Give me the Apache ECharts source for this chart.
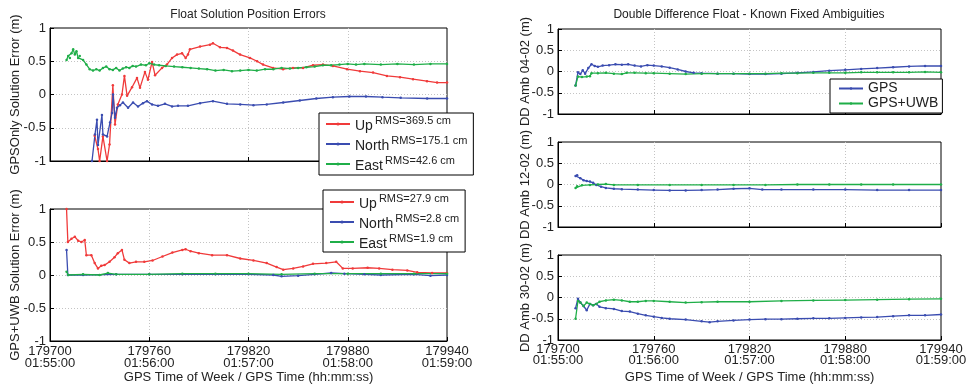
<!DOCTYPE html>
<html><head><meta charset="utf-8">
<script src="https://cdn.jsdelivr.net/npm/echarts@6/dist/echarts.min.js"></script>
<style>html,body{margin:0;padding:0;background:#fff}#c{width:972px;height:387px}</style>
</head><body><div id="c"></div>
<script>
// ---- tick labels / text ----
const xTickTimes = ['01:55:00', '01:56:00', '01:57:00', '01:58:00', '01:59:00'];
const leftNames = ['Up', 'North', 'East'];
const rmsGpsOnly = ['369.5 cm', '175.1 cm', '42.6 cm'];
const rmsGpsUwb = ['27.9 cm', '2.8 cm', '1.9 cm'];
const rightNames = ['GPS', 'GPS+UWB'];

// ---- GPS only position errors (m) ----
const upGpsOnly = [[179727,-0.62],[179729,-0.82],[179730,-1.0],[179732,-0.63],[179734.5,-1.0],[179736,-0.75],[179738,0.14],[179739.3,-0.45],[179741,-0.15],[179743.5,0.0],[179745,0.28],[179746.6,-0.02],[179749.6,0.11],[179752.6,0.25],[179754.4,0.1],[179757.4,0.34],[179759.2,0.22],[179761.7,0.49],[179763.5,0.29],[179767.7,0.4],[179770.7,0.45],[179773.8,0.55],[179776.8,0.6],[179779.8,0.62],[179782,0.55],[179783.4,0.6],[179784.6,0.68],[179790.7,0.72],[179796.7,0.75],[179798.5,0.77],[179802.8,0.71],[179807,0.7],[179810.6,0.66],[179814.9,0.6],[179820.9,0.55],[179825.2,0.5],[179828.8,0.45],[179834.8,0.4],[179840.9,0.38],[179846.9,0.4],[179853,0.4],[179859,0.44],[179865,0.45],[179871,0.43],[179879.6,0.38],[179887.4,0.35],[179895.3,0.33],[179903.7,0.28],[179911.6,0.26],[179919.5,0.23],[179927.9,0.2],[179934,0.18],[179940,0.18]];
const northGpsOnly = [[179725.4,-1.0],[179727.2,-0.6],[179728.4,-0.38],[179729,-0.76],[179731.4,-0.31],[179732,-0.6],[179734.5,-0.63],[179736.3,-0.42],[179737.5,-0.28],[179738.1,0.0],[179739.3,-0.35],[179740.5,-0.2],[179742.3,-0.16],[179744.1,-0.12],[179747.2,-0.2],[179750.2,-0.12],[179753.2,-0.18],[179756.2,-0.13],[179758.6,-0.1],[179761.7,-0.15],[179765.3,-0.17],[179769.5,-0.14],[179773.8,-0.18],[179777.4,-0.17],[179783.4,-0.17],[179790.7,-0.13],[179798.5,-0.1],[179807,-0.14],[179815,-0.15],[179823,-0.16],[179831,-0.15],[179841,-0.12],[179851,-0.09],[179861,-0.06],[179871,-0.04],[179881,-0.03],[179891,-0.03],[179901,-0.04],[179912,-0.05],[179928,-0.06],[179940,-0.06]];
const eastGpsOnly = [[179710,0.52],[179711,0.58],[179712,0.55],[179713,0.62],[179714,0.68],[179715,0.6],[179716,0.65],[179717,0.55],[179718,0.58],[179720,0.52],[179722,0.45],[179724,0.38],[179726,0.36],[179728,0.38],[179730,0.36],[179732,0.4],[179734,0.42],[179736,0.38],[179738,0.37],[179740,0.4],[179742,0.36],[179744,0.39],[179746,0.41],[179748,0.4],[179750,0.43],[179752,0.42],[179755,0.45],[179758,0.44],[179760,0.47],[179763,0.45],[179766,0.44],[179770,0.43],[179775,0.42],[179780,0.41],[179785,0.4],[179790,0.39],[179795,0.38],[179800,0.36],[179805,0.37],[179810,0.35],[179815,0.36],[179820,0.37],[179825,0.36],[179830,0.38],[179835,0.38],[179840,0.4],[179845,0.39],[179850,0.4],[179855,0.41],[179860,0.42],[179865,0.44],[179870,0.44],[179875,0.45],[179880,0.46],[179885,0.45],[179890,0.46],[179900,0.45],[179910,0.46],[179920,0.45],[179930,0.46],[179940,0.46]];

// ---- GPS+UWB position errors (m) ----
const upGpsUwb = [[179710,1.0],[179710.8,0.5],[179713,0.55],[179715,0.58],[179717,0.52],[179719,0.5],[179721,0.53],[179722,0.3],[179725,0.3],[179727,0.18],[179729,0.1],[179731,0.14],[179733,0.15],[179736,0.2],[179739,0.27],[179741,0.33],[179743.5,0.38],[179745,0.23],[179748,0.18],[179752,0.2],[179757,0.2],[179762,0.22],[179768,0.28],[179774,0.34],[179780,0.38],[179782,0.39],[179785,0.36],[179790,0.33],[179798,0.3],[179807,0.3],[179815,0.25],[179823,0.22],[179831,0.18],[179837,0.12],[179841,0.08],[179847,0.1],[179853,0.13],[179859,0.17],[179867,0.18],[179873,0.2],[179877,0.1],[179883,0.1],[179892,0.11],[179899,0.1],[179907,0.08],[179916,0.07],[179922,0.04],[179931,0.03],[179940,0.03]];
const northGpsUwb = [[179710,0.38],[179710.8,0.0],[179720,0.0],[179740,0.01],[179760,0.01],[179780,0.01],[179800,0.01],[179820,0.01],[179835,0.0],[179840,-0.02],[179850,-0.01],[179860,0.01],[179870,0.03],[179878,0.02],[179890,0.01],[179900,0.0],[179920,0.01],[179930,-0.01],[179940,0.0]];
const eastGpsUwb = [[179710,0.05],[179711,0.0],[179720,0.01],[179730,0.0],[179735,0.03],[179740,0.01],[179760,0.01],[179780,0.02],[179800,0.02],[179820,0.02],[179840,0.01],[179860,0.02],[179880,0.02],[179900,0.02],[179920,0.02],[179940,0.02]];

// ---- DD ambiguity errors (m) ----
const gps0402 = [[179711,-0.33],[179712.5,-0.02],[179714,-0.06],[179715.5,0.03],[179717,-0.05],[179719,0.08],[179721,0.17],[179723,0.13],[179725,0.11],[179728,0.14],[179732,0.15],[179736,0.17],[179740,0.16],[179744,0.17],[179748,0.14],[179752,0.12],[179756,0.15],[179760,0.14],[179765,0.12],[179770,0.09],[179775,0.05],[179780,0.0],[179785,-0.03],[179790,-0.04],[179800,-0.05],[179810,-0.05],[179820,-0.06],[179830,-0.06],[179840,-0.05],[179850,-0.03],[179860,-0.01],[179870,0.02],[179880,0.04],[179890,0.06],[179900,0.08],[179910,0.1],[179920,0.12],[179930,0.13],[179940,0.13]];
const uwb0402 = [[179711,-0.33],[179712.5,-0.12],[179715,-0.13],[179718,-0.12],[179720,-0.11],[179721,-0.04],[179725,-0.04],[179730,-0.03],[179735,-0.05],[179740,-0.06],[179743,-0.03],[179748,-0.03],[179755,-0.04],[179760,-0.04],[179770,-0.05],[179780,-0.06],[179790,-0.05],[179800,-0.05],[179810,-0.05],[179820,-0.05],[179830,-0.05],[179840,-0.04],[179850,-0.04],[179860,-0.03],[179870,-0.03],[179880,-0.03],[179890,-0.02],[179900,-0.02],[179910,-0.02],[179920,-0.02],[179930,-0.01],[179940,-0.02]];
const gps1202 = [[179711,0.2],[179712,0.22],[179714,0.15],[179716,0.1],[179718,0.08],[179720,0.07],[179722,0.04],[179724,-0.01],[179727,-0.05],[179730,-0.08],[179735,-0.1],[179740,-0.11],[179750,-0.12],[179760,-0.13],[179770,-0.14],[179780,-0.14],[179790,-0.13],[179800,-0.12],[179810,-0.1],[179820,-0.09],[179828,-0.12],[179840,-0.12],[179860,-0.12],[179880,-0.12],[179900,-0.13],[179920,-0.13],[179940,-0.13]];
const uwb1202 = [[179711,-0.08],[179712,-0.04],[179715,-0.02],[179720,-0.01],[179725,0.0],[179730,0.01],[179735,-0.01],[179750,-0.01],[179770,-0.01],[179790,-0.01],[179810,-0.01],[179830,-0.01],[179850,0.0],[179870,0.0],[179890,0.0],[179910,0.0],[179940,0.0]];
const gps3002 = [[179711,-0.25],[179712.5,-0.03],[179714,-0.12],[179716,-0.2],[179718,-0.3],[179720,-0.15],[179722,-0.18],[179724,-0.15],[179726,-0.22],[179730,-0.25],[179735,-0.27],[179740,-0.32],[179745,-0.33],[179750,-0.38],[179755,-0.42],[179760,-0.45],[179765,-0.48],[179770,-0.5],[179780,-0.52],[179790,-0.56],[179795,-0.58],[179800,-0.56],[179810,-0.54],[179820,-0.52],[179830,-0.51],[179840,-0.51],[179850,-0.5],[179860,-0.49],[179870,-0.49],[179880,-0.48],[179890,-0.47],[179900,-0.46],[179910,-0.44],[179920,-0.42],[179930,-0.42],[179940,-0.4]];
const uwb3002 = [[179711,-0.5],[179712.5,-0.08],[179714,-0.12],[179716,-0.2],[179718,-0.12],[179720,-0.15],[179722,-0.18],[179724,-0.15],[179726,-0.1],[179730,-0.07],[179735,-0.05],[179740,-0.07],[179745,-0.1],[179750,-0.1],[179755,-0.08],[179760,-0.08],[179770,-0.1],[179780,-0.12],[179790,-0.11],[179800,-0.1],[179820,-0.1],[179840,-0.08],[179860,-0.07],[179880,-0.06],[179900,-0.05],[179920,-0.04],[179940,-0.03]];

const RED = '#f03a3a', BLUE = '#3a4cb0', GREEN = '#1fae48';
const FONT = 'Liberation Sans, Arial, sans-serif';
const TXT = '#222';

const grids = [
  {left: 50, top: 28, width: 397, height: 133},
  {left: 50, top: 209, width: 397, height: 132},
  {left: 558, top: 29, width: 383, height: 85},
  {left: 558, top: 142, width: 383, height: 85},
  {left: 558, top: 255, width: 383, height: 85}
];
const yNames = ['GPSOnly Solution Error (m)', 'GPS+UWB Solution Error (m)', 'DD Amb 04-02 (m)', 'DD Amb 12-02 (m)', 'DD Amb 30-02 (m)'];
const xName = 'GPS Time of Week / GPS Time (hh:mm:ss)';

const xAxes = grids.map((g, i) => {
  const showLab = (i === 1 || i === 4);
  return {
    type: 'value', gridIndex: i, min: 179700, max: 179940, interval: 60,
    name: showLab ? xName : '', nameLocation: 'middle', nameGap: i === 1 ? 30 : 31, nameMoveOverlap: false,
    nameTextStyle: {fontSize: 13, color: TXT, fontFamily: FONT},
    axisLine: {show: true, onZero: false, lineStyle: {color: '#000', width: 1}},
    axisTick: {show: true, inside: true, length: 4, lineStyle: {color: '#000'}},
    axisLabel: {show: showLab, margin: 4, fontSize: 13, color: TXT, fontFamily: FONT, lineHeight: i === 1 ? 12 : 11,
      showMinLabel: true, showMaxLabel: true,
      formatter: v => v + '\n' + xTickTimes[Math.round((v - 179700) / 60)]},
    splitLine: {show: true, showMinLine: false, showMaxLine: false, lineStyle: {color: '#c4c4c4', type: [1, 2], width: 1}}
  };
});
const yAxes = grids.map((g, i) => ({
  type: 'value', gridIndex: i, min: -1, max: 1, interval: 0.5,
  name: yNames[i], nameLocation: 'middle', nameGap: i < 2 ? 28 : 26, nameMoveOverlap: false,
  nameTextStyle: {fontSize: 13, color: TXT, fontFamily: FONT},
  axisLine: {show: true, onZero: false, lineStyle: {color: '#000', width: 1}},
  axisTick: {show: true, inside: true, length: 4, lineStyle: {color: '#000'}},
  axisLabel: {margin: 4, fontSize: 13, color: TXT, fontFamily: FONT},
  splitLine: {show: true, showMinLine: false, showMaxLine: false, lineStyle: {color: '#c4c4c4', type: [1, 2], width: 1}}
}));

function mk(name, data, color, gi) {
  return {type: 'line', name, data, xAxisIndex: gi, yAxisIndex: gi,
    symbol: 'circle', symbolSize: 2.5, showAllSymbol: true, clip: true,
    lineStyle: {width: 1.3, color}, itemStyle: {color}, emphasis: {disabled: true}, animation: false};
}
const series = [
  mk(leftNames[0], upGpsOnly, RED, 0), mk(leftNames[1], northGpsOnly, BLUE, 0), mk(leftNames[2], eastGpsOnly, GREEN, 0),
  mk(leftNames[0], upGpsUwb, RED, 1), mk(leftNames[1], northGpsUwb, BLUE, 1), mk(leftNames[2], eastGpsUwb, GREEN, 1),
  mk(rightNames[0], gps0402, BLUE, 2), mk(rightNames[1], uwb0402, GREEN, 2),
  mk(rightNames[0], gps1202, BLUE, 3), mk(rightNames[1], uwb1202, GREEN, 3),
  mk(rightNames[0], gps3002, BLUE, 4), mk(rightNames[1], uwb3002, GREEN, 4)
];

const richSup = {
  n: {fontSize: 14, lineHeight: 18, color: TXT, fontFamily: FONT, verticalAlign: 'bottom'},
  r: {fontSize: 11, lineHeight: 10, color: TXT, fontFamily: FONT, verticalAlign: 'top', padding: [0, 0, 0, 2]}
};
function posLegend(left, top, rms, pad) {
  return {
    orient: 'vertical', left, top, data: leftNames, padding: pad, itemGap: 2,
    itemWidth: 24, itemHeight: 4, backgroundColor: '#fff', borderColor: '#000', borderWidth: 1,
    selectedMode: false, z: 10,
    textStyle: {rich: richSup},
    formatter: name => '{n|' + name + '}{r|RMS=' + rms[leftNames.indexOf(name)] + '}'
  };
}

const option = {
  backgroundColor: '#fff',
  animation: false,
  textStyle: {fontFamily: FONT},
  grid: grids.map(g => Object.assign({show: true, borderColor: '#000', borderWidth: 1, backgroundColor: 'transparent', containLabel: false}, g)),
  xAxis: xAxes,
  yAxis: yAxes,
  legend: [
    posLegend(319, 113, rmsGpsOnly, [2, 6, 2, 6]),
    posLegend(323, 190, rmsGpsUwb, [3, 6, 1, 6]),
    {orient: 'vertical', left: 830, top: 79, data: rightNames, padding: [2, 4, 2, 8], itemGap: 0,
      itemWidth: 24, itemHeight: 3, backgroundColor: '#fff', borderColor: '#000', borderWidth: 1,
      selectedMode: false, z: 10,
      textStyle: {fontSize: 14, lineHeight: 15, color: TXT, fontFamily: FONT}}
  ],
  graphic: [
    {type: 'text', x: 248, y: 15, style: {text: 'Float Solution Position Errors', fontSize: 12, fontFamily: FONT, fill: TXT, align: 'center', verticalAlign: 'middle'}},
    {type: 'text', x: 749, y: 15, style: {text: 'Double Difference Float - Known Fixed Ambiguities', fontSize: 12, fontFamily: FONT, fill: TXT, align: 'center', verticalAlign: 'middle'}}
  ],
  series
};
const chart = echarts.init(document.getElementById('c'), null, {renderer: 'canvas'});
chart.setOption(option);
</script>
</body></html>
